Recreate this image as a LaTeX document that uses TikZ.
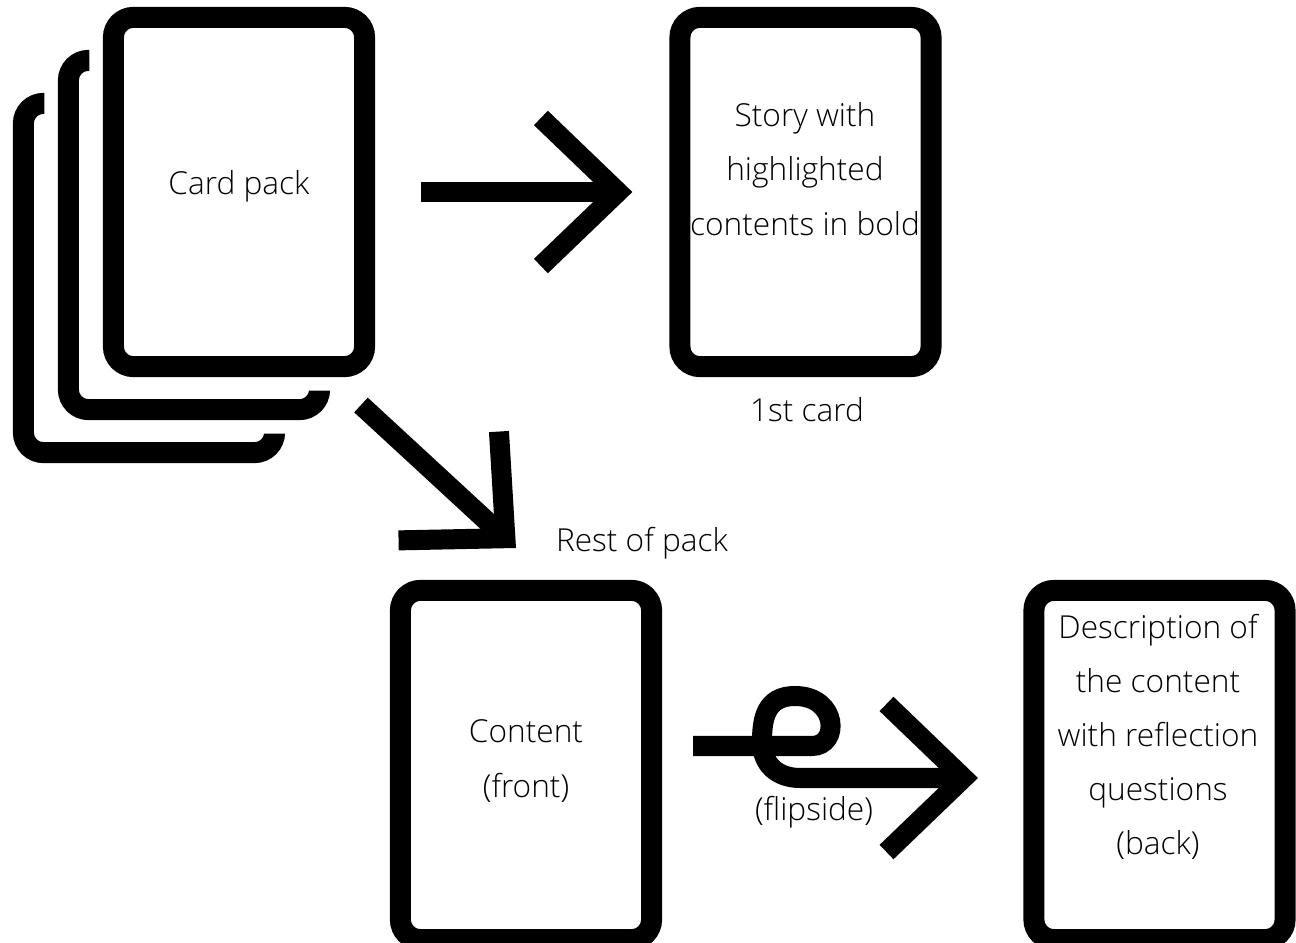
\documentclass[tikz,border=0pt]{standalone}
\usepackage{fontspec}
\setmainfont{Open Sans Light}
\usepackage{tikz}
\usetikzlibrary{arrows.meta}
\tikzset{
  card/.style={rectangle, draw=black, fill=white, line width=0.21cm, rounded corners=0.2cm, minimum width=2.51cm, minimum height=3.49cm, inner sep=0pt},
  stacked/.style={preaction={draw=white, line width=0.48cm}},
  cardtext/.style={font=\fontsize{9}{15.4}\selectfont, align=center, inner sep=0pt},
  flowarrow/.style={line width=0.2cm, -{Straight Barb[length=0.77cm, width=1.48cm]}}
}

\begin{document}
\begin{tikzpicture}[x=0.01cm, y=-0.01cm]
  \clip (0,0) rectangle (1296,943);

  % Card pack
  \node[card] (packback) at (149,278) {};
  \node[card, stacked] (packmid) at (194,235) {};
  \node[card, stacked] (pack) at (239,192) {};

  % Single cards
  \node[card] (first) at (805.5,192) {};
  \node[card] (front) at (526,765) {};
  \node[card] (back) at (1159.5,765) {};

  % Texts
  \node[cardtext] (packtext) at (239,186) {Card pack};
  \node[cardtext] (storytext) at (805,169) {Story with\\highlighted\\contents in bold};
  \node[cardtext] (firstlabel) at (807,410) {1st card};
  \node[cardtext] (restlabel) at (642,543) {Rest of pack};
  \node[cardtext] (fronttext) at (526,761) {Content\\(front)};
  \node[cardtext] (fliplabel) at (814,812) {(flipside)};
  \node[cardtext] (backtext) at (1158,737) {Description of\\the content\\with reflection\\questions\\(back)};

  % Arrows
  \coordinate (restfrom) at (361,405);
  \coordinate (restto) at (516,548);
  \coordinate (flipfrom) at (693,746);
  \coordinate (flipto) at (978,778);
  \draw[flowarrow, shorten <=0.46cm, shorten >=0.37cm] (pack.east) -- (first.west);
  \draw[flowarrow] (restfrom) -- (restto);
  \draw[flowarrow] (flipfrom) -- (812,746) .. controls (840,746) and (838,696) .. (795,696)
    .. controls (765,696) and (762,720) .. (762,742)
    .. controls (762,765) and (778,778) .. (800,778) -- (flipto);
\end{tikzpicture}
\end{document}
